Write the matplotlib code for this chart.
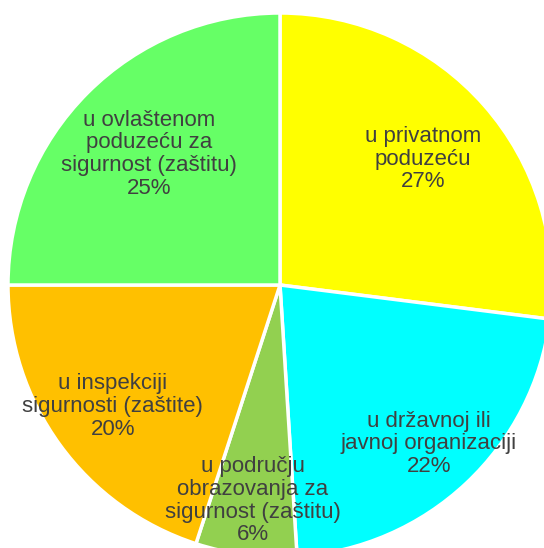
import matplotlib.pyplot as plt
import numpy as np

plt.rcParams['font.family'] = ['Liberation Sans', 'DejaVu Sans']

# Data
labels = [
    'u privatnom\npoduzeću',
    'u državnoj ili\njavnoj organizaciji',
    'u području\nobrazovanja za\nsigurnost (zaštitu)',
    'u inspekciji\nsigurnosti (zaštite)',
    'u ovlaštenom\npoduzeću za\nsigurnost (zaštitu)',
]
shares = [27, 22, 6, 20, 25]
colors = ['#FFFF00', '#00FFFF', '#92D050', '#FFC000', '#66FF66']

# label distance from centre, per slice (fraction of radius)
label_dist = [0.70, 0.80, 0.80, 0.76, 0.68]

W, H = 544, 548
cx, cy, R = 280, 285, 272

fig = plt.figure(figsize=(W / 100, H / 100), dpi=100)
ax = fig.add_axes([0, 0, 1, 1])

wedges, _ = ax.pie(
    shares, colors=colors, startangle=90, counterclock=False,
    radius=1, center=(0, 0),
    wedgeprops=dict(edgecolor='white', linewidth=2.5),
)

angle = 90.0
for lab, s, d in zip(labels, shares, label_dist):
    span = 360.0 * s / sum(shares)
    mid = np.deg2rad(angle - span / 2)
    angle -= span
    ax.text(d * np.cos(mid), d * np.sin(mid), f'{lab}\n{s}%',
            ha='center', va='center', fontsize=16, color='#404040',
            linespacing=1.1)

ax.set_xlim(-cx / R, (W - cx) / R)
ax.set_ylim(-(H - cy) / R, cy / R)
ax.set_aspect('equal')
ax.axis('off')

fig.savefig('out.png', dpi=100)
